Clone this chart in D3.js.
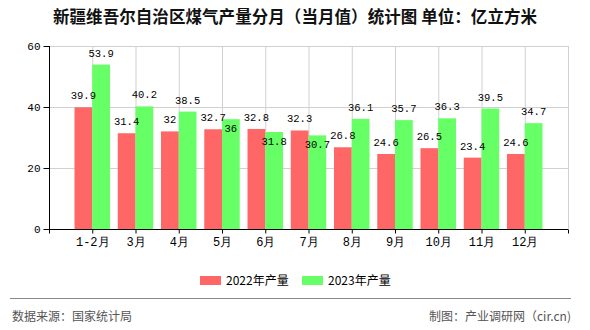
<!DOCTYPE html>
<html><head><meta charset="utf-8">
<script src="https://cdn.jsdelivr.net/npm/d3@7"></script>
<style>body{margin:0;background:#fff}svg{display:block}</style>
</head><body>
<script>
const categories = ["1-2月","3月","4月","5月","6月","7月","8月","9月","10月","11月","12月"];
const values2022 = [39.9,31.4,32,32.7,32.8,32.3,26.8,24.6,26.5,23.4,24.6];
const values2023 = [53.9,40.2,38.5,36,31.8,30.7,36.1,35.7,36.3,39.5,34.7];
const seriesNames = ["2022年产量","2023年产量"];
const yTicks = [0,20,40,60];
const title = "新疆维吾尔自治区煤气产量分月（当月值）统计图 单位：亿立方米";
const sourceText = "数据来源：国家统计局";
const creditText = "制图：产业调研网（cir.cn)";

const W=590,H=330;
const L=49,R=568,T=46,B=229;
const colors=["#FF6666","#66FF66"];
const numFont="'Liberation Mono','DejaVu Sans Mono',monospace";
const cjkFont="'Noto Sans CJK SC','Noto Sans',sans-serif";

const svg=d3.select("body").append("svg").attr("width",W).attr("height",H);
const x=d3.scaleLinear().domain([0,categories.length+1]).range([L,R]);
const y=d3.scaleLinear().domain([0,60]).range([B,T]);
const bw=(x(1)-x(0))*0.41;

// title
svg.append("text").attr("x",295).attr("y",23).attr("text-anchor","middle")
  .attr("font-family",cjkFont).attr("font-size",16.5).attr("font-weight","bold").attr("fill","#111")
  .attr("textLength",484).attr("lengthAdjust","spacing").text(title);

// grid
const ticksX=d3.range(0,categories.length+2);
svg.append("g").selectAll("line").data(ticksX.slice(1)).join("line")
  .attr("x1",d=>x(d)+0.5).attr("x2",d=>x(d)+0.5).attr("y1",T).attr("y2",B)
  .attr("stroke","#d0d0d0");
svg.append("g").selectAll("line").data(yTicks.slice(1)).join("line")
  .attr("x1",L).attr("x2",R).attr("y1",d=>Math.round(y(d))+0.5).attr("y2",d=>Math.round(y(d))+0.5)
  .attr("stroke","#d0d0d0");

// bars
const gb=svg.append("g");
gb.selectAll("rect.a").data(values2022).join("rect").attr("class","a")
  .attr("x",(d,i)=>x(i+1)-bw).attr("width",bw).attr("y",d=>y(d)).attr("height",d=>B-y(d)).attr("fill",colors[0]);
gb.selectAll("rect.b").data(values2023).join("rect").attr("class","b")
  .attr("x",(d,i)=>x(i+1)).attr("width",bw).attr("y",d=>y(d)).attr("height",d=>B-y(d)).attr("fill",colors[1]);

// axes
const yAxis=d3.axisLeft(y).tickValues(yTicks).tickSize(6).tickPadding(3);
const ya=svg.append("g").attr("transform",`translate(${L+0.5},0)`).call(yAxis);
ya.select(".domain").attr("d",`M0,${T}V${B}`).attr("stroke","#000");
ya.selectAll("text").attr("font-family",numFont).attr("font-size",11).attr("fill","#000");

const xAxis=d3.axisBottom(x).tickValues(ticksX).tickSize(4).tickPadding(4)
  .tickFormat(d=>categories[d-1]||"");
const xa=svg.append("g").attr("transform",`translate(0,${B+0.5})`).call(xAxis);
xa.select(".domain").attr("d",`M${L},0H${R}`).attr("stroke","#000");
xa.selectAll("text").attr("font-family",numFont).attr("font-size",12).attr("fill","#000");

// labels
const gl=svg.append("g").attr("font-family",numFont).attr("font-size",10.5).attr("fill","#000").attr("text-anchor","middle");
gl.selectAll("text.a").data(values2022).join("text").attr("class","a")
  .attr("x",(d,i)=>x(i+1)-bw/2).attr("y",d=>y(d)-8).text(d=>d);
gl.selectAll("text.b").data(values2023).join("text").attr("class","b")
  .attr("x",(d,i)=>x(i+1)+bw/2)
  .attr("y",(d,i)=>Math.abs(y(d)-y(values2022[i]))<14 ? y(d)+13 : y(d)-8).text(d=>d);

// legend
const lg=svg.append("g");
[0,1].forEach(k=>{
  const lx=200+k*102;
  lg.append("rect").attr("x",lx).attr("y",276).attr("width",21).attr("height",9).attr("fill",colors[k]);
  lg.append("text").attr("x",lx+26).attr("y",285).attr("font-family",cjkFont).attr("font-size",12).attr("fill","#000").text(seriesNames[k]);
});

// footer
svg.append("line").attr("x1",10).attr("x2",571).attr("y1",298.5).attr("y2",298.5).attr("stroke","#888");
svg.append("text").attr("x",12).attr("y",321).attr("font-family",cjkFont).attr("font-size",12).attr("fill","#555").text(sourceText);
svg.append("text").attr("x",571).attr("y",321).attr("text-anchor","end").attr("font-family",cjkFont).attr("font-size",12).attr("fill","#555").text(creditText);
</script>
</body></html>
